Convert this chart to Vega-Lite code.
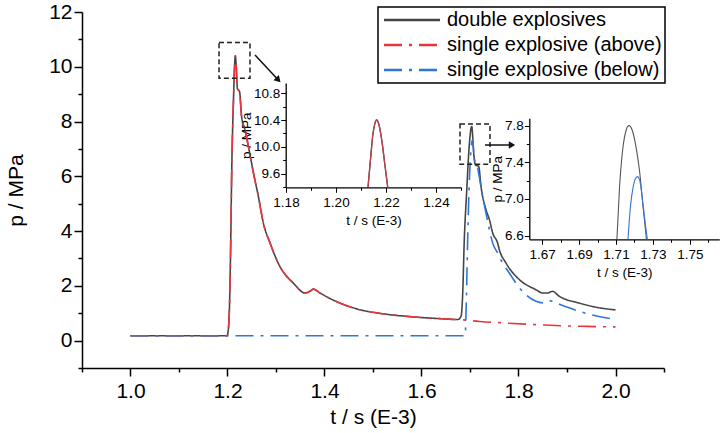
{
  "$schema": "https://vega.github.io/schema/vega-lite/v6.json",
  "description": "Pressure histories p(t) for double and single explosives, with two zoomed insets.",
  "width": 582,
  "height": 356,
  "autosize": "none",
  "padding": {"left": 82, "top": 12, "right": 64, "bottom": 65},
  "background": "white",
  "datasets": {
    "main": [
      {"series": "double explosives", "t": 1.0, "p": 0.18},
      {"series": "double explosives", "t": 1.199, "p": 0.18},
      {"series": "double explosives", "t": 1.201, "p": 0.3},
      {"series": "double explosives", "t": 1.204, "p": 1.2},
      {"series": "double explosives", "t": 1.206, "p": 2.85},
      {"series": "double explosives", "t": 1.209, "p": 6.5},
      {"series": "double explosives", "t": 1.2125, "p": 8.9},
      {"series": "double explosives", "t": 1.2145, "p": 10.0},
      {"series": "double explosives", "t": 1.2162, "p": 10.4},
      {"series": "double explosives", "t": 1.218, "p": 10.0},
      {"series": "double explosives", "t": 1.2205, "p": 9.2},
      {"series": "double explosives", "t": 1.2248, "p": 9.1},
      {"series": "double explosives", "t": 1.229, "p": 8.19},
      {"series": "double explosives", "t": 1.236, "p": 7.7},
      {"series": "double explosives", "t": 1.247, "p": 6.73},
      {"series": "double explosives", "t": 1.2535, "p": 6.12},
      {"series": "double explosives", "t": 1.2636, "p": 5.27},
      {"series": "double explosives", "t": 1.274, "p": 4.29},
      {"series": "double explosives", "t": 1.2878, "p": 3.56},
      {"series": "double explosives", "t": 1.308, "p": 2.71},
      {"series": "double explosives", "t": 1.3357, "p": 2.1},
      {"series": "double explosives", "t": 1.36, "p": 1.74},
      {"series": "double explosives", "t": 1.37, "p": 1.8},
      {"series": "double explosives", "t": 1.377, "p": 1.88},
      {"series": "double explosives", "t": 1.3905, "p": 1.74},
      {"series": "double explosives", "t": 1.41, "p": 1.55},
      {"series": "double explosives", "t": 1.4317, "p": 1.37},
      {"series": "double explosives", "t": 1.4728, "p": 1.13},
      {"series": "double explosives", "t": 1.52, "p": 0.98},
      {"series": "double explosives", "t": 1.58, "p": 0.87},
      {"series": "double explosives", "t": 1.64, "p": 0.8},
      {"series": "double explosives", "t": 1.675, "p": 0.77},
      {"series": "double explosives", "t": 1.6815, "p": 0.89},
      {"series": "double explosives", "t": 1.685, "p": 1.74},
      {"series": "double explosives", "t": 1.688, "p": 3.56},
      {"series": "double explosives", "t": 1.693, "p": 5.39},
      {"series": "double explosives", "t": 1.6988, "p": 7.21},
      {"series": "double explosives", "t": 1.7036, "p": 7.82},
      {"series": "double explosives", "t": 1.7077, "p": 6.84},
      {"series": "double explosives", "t": 1.711, "p": 6.42},
      {"series": "double explosives", "t": 1.718, "p": 6.36},
      {"series": "double explosives", "t": 1.7227, "p": 5.63},
      {"series": "double explosives", "t": 1.733, "p": 4.78},
      {"series": "double explosives", "t": 1.74, "p": 4.42},
      {"series": "double explosives", "t": 1.7468, "p": 3.93},
      {"series": "double explosives", "t": 1.757, "p": 3.56},
      {"series": "double explosives", "t": 1.7605, "p": 3.32},
      {"series": "double explosives", "t": 1.774, "p": 2.84},
      {"series": "double explosives", "t": 1.8016, "p": 2.23},
      {"series": "double explosives", "t": 1.8358, "p": 1.86},
      {"series": "double explosives", "t": 1.8495, "p": 1.74},
      {"series": "double explosives", "t": 1.86, "p": 1.74},
      {"series": "double explosives", "t": 1.87, "p": 1.8},
      {"series": "double explosives", "t": 1.884, "p": 1.62},
      {"series": "double explosives", "t": 1.925, "p": 1.37},
      {"series": "double explosives", "t": 1.96, "p": 1.22},
      {"series": "double explosives", "t": 2.0, "p": 1.12},

      {"series": "single explosive (above)", "t": 1.0, "p": 0.18},
      {"series": "single explosive (above)", "t": 1.199, "p": 0.18},
      {"series": "single explosive (above)", "t": 1.201, "p": 0.3},
      {"series": "single explosive (above)", "t": 1.204, "p": 1.2},
      {"series": "single explosive (above)", "t": 1.206, "p": 2.85},
      {"series": "single explosive (above)", "t": 1.209, "p": 6.5},
      {"series": "single explosive (above)", "t": 1.2125, "p": 8.9},
      {"series": "single explosive (above)", "t": 1.2145, "p": 10.0},
      {"series": "single explosive (above)", "t": 1.2162, "p": 10.4},
      {"series": "single explosive (above)", "t": 1.218, "p": 10.0},
      {"series": "single explosive (above)", "t": 1.2205, "p": 9.2},
      {"series": "single explosive (above)", "t": 1.2248, "p": 9.1},
      {"series": "single explosive (above)", "t": 1.229, "p": 8.19},
      {"series": "single explosive (above)", "t": 1.236, "p": 7.7},
      {"series": "single explosive (above)", "t": 1.247, "p": 6.73},
      {"series": "single explosive (above)", "t": 1.2535, "p": 6.12},
      {"series": "single explosive (above)", "t": 1.2636, "p": 5.27},
      {"series": "single explosive (above)", "t": 1.274, "p": 4.29},
      {"series": "single explosive (above)", "t": 1.2878, "p": 3.56},
      {"series": "single explosive (above)", "t": 1.308, "p": 2.71},
      {"series": "single explosive (above)", "t": 1.3357, "p": 2.1},
      {"series": "single explosive (above)", "t": 1.36, "p": 1.74},
      {"series": "single explosive (above)", "t": 1.37, "p": 1.8},
      {"series": "single explosive (above)", "t": 1.377, "p": 1.88},
      {"series": "single explosive (above)", "t": 1.3905, "p": 1.74},
      {"series": "single explosive (above)", "t": 1.41, "p": 1.55},
      {"series": "single explosive (above)", "t": 1.4317, "p": 1.37},
      {"series": "single explosive (above)", "t": 1.4728, "p": 1.13},
      {"series": "single explosive (above)", "t": 1.52, "p": 0.98},
      {"series": "single explosive (above)", "t": 1.58, "p": 0.87},
      {"series": "single explosive (above)", "t": 1.64, "p": 0.8},
      {"series": "single explosive (above)", "t": 1.683, "p": 0.76},
      {"series": "single explosive (above)", "t": 1.72, "p": 0.7},
      {"series": "single explosive (above)", "t": 1.774, "p": 0.64},
      {"series": "single explosive (above)", "t": 1.83, "p": 0.59},
      {"series": "single explosive (above)", "t": 1.877, "p": 0.55},
      {"series": "single explosive (above)", "t": 1.94, "p": 0.52},
      {"series": "single explosive (above)", "t": 2.0, "p": 0.5},

      {"series": "single explosive (below)", "t": 1.0, "p": 0.18},
      {"series": "single explosive (below)", "t": 1.69, "p": 0.18},
      {"series": "single explosive (below)", "t": 1.692, "p": 1.13},
      {"series": "single explosive (below)", "t": 1.695, "p": 3.56},
      {"series": "single explosive (below)", "t": 1.699, "p": 6.0},
      {"series": "single explosive (below)", "t": 1.702, "p": 6.97},
      {"series": "single explosive (below)", "t": 1.7055, "p": 7.34},
      {"series": "single explosive (below)", "t": 1.709, "p": 6.6},
      {"series": "single explosive (below)", "t": 1.7135, "p": 6.48},
      {"series": "single explosive (below)", "t": 1.719, "p": 6.0},
      {"series": "single explosive (below)", "t": 1.726, "p": 5.27},
      {"series": "single explosive (below)", "t": 1.733, "p": 4.66},
      {"series": "single explosive (below)", "t": 1.74, "p": 4.05},
      {"series": "single explosive (below)", "t": 1.7468, "p": 3.56},
      {"series": "single explosive (below)", "t": 1.757, "p": 3.2},
      {"series": "single explosive (below)", "t": 1.767, "p": 2.84},
      {"series": "single explosive (below)", "t": 1.781, "p": 2.47},
      {"series": "single explosive (below)", "t": 1.7947, "p": 2.1},
      {"series": "single explosive (below)", "t": 1.815, "p": 1.68},
      {"series": "single explosive (below)", "t": 1.836, "p": 1.44},
      {"series": "single explosive (below)", "t": 1.856, "p": 1.37},
      {"series": "single explosive (below)", "t": 1.866, "p": 1.45},
      {"series": "single explosive (below)", "t": 1.884, "p": 1.33},
      {"series": "single explosive (below)", "t": 1.9386, "p": 1.0},
      {"series": "single explosive (below)", "t": 2.0, "p": 0.77}
    ],
    "inset1": [
      {"series": "double explosives", "t": 1.2128, "p": 9.4},
      {"series": "double explosives", "t": 1.214, "p": 9.9},
      {"series": "double explosives", "t": 1.2148, "p": 10.2},
      {"series": "double explosives", "t": 1.2155, "p": 10.34},
      {"series": "double explosives", "t": 1.2162, "p": 10.4},
      {"series": "double explosives", "t": 1.2171, "p": 10.34},
      {"series": "double explosives", "t": 1.2185, "p": 10.05},
      {"series": "double explosives", "t": 1.2195, "p": 9.75},
      {"series": "double explosives", "t": 1.2207, "p": 9.4},
      {"series": "single explosive (above)", "t": 1.2128, "p": 9.4},
      {"series": "single explosive (above)", "t": 1.214, "p": 9.9},
      {"series": "single explosive (above)", "t": 1.2148, "p": 10.2},
      {"series": "single explosive (above)", "t": 1.2155, "p": 10.34},
      {"series": "single explosive (above)", "t": 1.2162, "p": 10.4},
      {"series": "single explosive (above)", "t": 1.2171, "p": 10.34},
      {"series": "single explosive (above)", "t": 1.2185, "p": 10.05},
      {"series": "single explosive (above)", "t": 1.2195, "p": 9.75},
      {"series": "single explosive (above)", "t": 1.2207, "p": 9.4}
    ],
    "inset2": [
      {"series": "double explosives", "t": 1.7105, "p": 6.56},
      {"series": "double explosives", "t": 1.7119, "p": 7.12},
      {"series": "double explosives", "t": 1.7137, "p": 7.55},
      {"series": "double explosives", "t": 1.7155, "p": 7.75},
      {"series": "double explosives", "t": 1.717, "p": 7.8},
      {"series": "double explosives", "t": 1.7188, "p": 7.75},
      {"series": "double explosives", "t": 1.721, "p": 7.55},
      {"series": "double explosives", "t": 1.7228, "p": 7.3},
      {"series": "double explosives", "t": 1.7246, "p": 6.93},
      {"series": "double explosives", "t": 1.7265, "p": 6.56},
      {"series": "single explosive (below)", "t": 1.7165, "p": 6.56},
      {"series": "single explosive (below)", "t": 1.7179, "p": 6.93},
      {"series": "single explosive (below)", "t": 1.7192, "p": 7.12},
      {"series": "single explosive (below)", "t": 1.7205, "p": 7.22},
      {"series": "single explosive (below)", "t": 1.7216, "p": 7.244},
      {"series": "single explosive (below)", "t": 1.7229, "p": 7.2},
      {"series": "single explosive (below)", "t": 1.7247, "p": 6.93},
      {"series": "single explosive (below)", "t": 1.726, "p": 6.71},
      {"series": "single explosive (below)", "t": 1.727, "p": 6.56}
    ],
    "boxes": [
      {"box": "first peak", "t": 1.1825, "t2": 1.2464, "p": 10.89, "p2": 9.58},
      {"box": "second peak", "t": 1.6794, "t2": 1.7412, "p": 7.91, "p2": 6.44}
    ],
    "arrows": [
      {"arrow": "a", "t": 1.3048, "p": 9.517, "t2": 1.2567, "p2": 10.43},
      {"arrow": "b", "t": 1.7866, "p": 7.143, "t2": 1.7309, "p2": 7.143}
    ]
  },
  "layer": [
    {
      "data": {"name": "main"},
      "encoding": {
        "x": {
          "field": "t",
          "type": "quantitative",
          "scale": {"domain": [0.9, 2.1], "nice": false, "zero": false},
          "axis": {
            "title": "t / s (E-3)",
            "values": [0.9, 1, 1.1, 1.2, 1.3, 1.4, 1.5, 1.6, 1.7, 1.8, 1.9, 2, 2.1],
            "labelExpr": "round(datum.value*10)%2==0 ? format(datum.value,'.1f') : ''",
            "tickSize": {"condition": {"test": "round(datum.value*10)%2==0", "value": 8}, "value": 4},
            "labelFontSize": 21,
            "titleFontSize": 21,
            "labelPadding": 4,
            "titlePadding": 5
          }
        },
        "y": {
          "field": "p",
          "type": "quantitative",
          "scale": {"domain": [-1, 12], "nice": false, "zero": false},
          "axis": {
            "title": "p / MPa",
            "values": [-1, 0, 1, 2, 3, 4, 5, 6, 7, 8, 9, 10, 11, 12],
            "labelExpr": "datum.value>=0 && datum.value%2==0 ? datum.label : ''",
            "tickSize": {"condition": {"test": "datum.value%2==0", "value": 8}, "value": 4},
            "labelFontSize": 21,
            "titleFontSize": 21,
            "labelPadding": 2,
            "titlePadding": 22
          }
        }
      },
      "layer": [
        {
          "mark": {"type": "line", "strokeWidth": 1.6, "interpolate": "monotone"},
          "encoding": {
            "color": {
              "field": "series",
              "type": "nominal",
              "title": null,
              "scale": {
                "domain": ["double explosives", "single explosive (above)", "single explosive (below)"],
                "range": ["#454545", "#e8363f", "#2e76d6"]
              }
            },
            "strokeDash": {
              "field": "series",
              "type": "nominal",
              "title": null,
              "scale": {
                "domain": ["double explosives", "single explosive (above)", "single explosive (below)"],
                "range": [[1, 0], [18, 7, 3, 7], [18, 7, 3, 7]]
              }
            }
          }
        },
        {
          "data": {"name": "boxes"},
          "mark": {"type": "rect", "fillOpacity": 0, "stroke": "#222222", "strokeWidth": 1.5, "strokeDash": [5, 3]},
          "encoding": {"x2": {"field": "t2"}, "y2": {"field": "p2"}}
        },
        {
          "data": {"name": "arrows"},
          "mark": {"type": "rule", "color": "#111111", "strokeWidth": 1.5},
          "encoding": {"x2": {"field": "t2"}, "y2": {"field": "p2"}}
        },
        {
          "data": {"name": "arrows"},
          "transform": [{"filter": "datum.arrow == 'a'"}],
          "mark": {"type": "point", "shape": "triangle-right", "angle": 47, "filled": true, "size": 55, "color": "#111111", "opacity": 1}
        },
        {
          "data": {"name": "arrows"},
          "transform": [{"filter": "datum.arrow == 'b'"}],
          "mark": {"type": "point", "shape": "triangle-right", "angle": 0, "filled": true, "size": 55, "color": "#111111", "opacity": 1}
        }
      ]
    },
    {
      "data": {"name": "inset1"},
      "mark": {"type": "line", "strokeWidth": 1.3, "interpolate": "monotone"},
      "encoding": {
        "x": {
          "field": "t",
          "type": "quantitative",
          "scale": {"domain": [1.18, 1.25], "nice": false, "zero": false, "range": [204, 379]},
          "axis": {
            "orient": "bottom",
            "offset": -180.7,
            "title": "t / s (E-3)",
            "values": [1.18, 1.19, 1.2, 1.21, 1.22, 1.23, 1.24, 1.25],
            "labelExpr": "round(datum.value*100)%2==0 ? format(datum.value,'.2f') : ''",
            "tickSize": {"condition": {"test": "round(datum.value*100)%2==0", "value": 5}, "value": 3},
            "labelFontSize": 13.5,
            "titleFontSize": 13.5,
            "domainWidth": 1.3,
            "tickWidth": 1,
            "labelPadding": 3,
            "titlePadding": 5
          }
        },
        "y": {
          "field": "p",
          "type": "quantitative",
          "scale": {"domain": [9.4, 10.95], "nice": false, "zero": false, "range": [175.3, 71]},
          "axis": {
            "orient": "left",
            "offset": -203.7,
            "title": "p / MPa",
            "values": [9.4, 9.6, 9.8, 10, 10.2, 10.4, 10.6, 10.8],
            "labelExpr": "round(datum.value*10)%4==0 ? format(datum.value,'.1f') : ''",
            "tickSize": {"condition": {"test": "round(datum.value*10)%4==0", "value": 5}, "value": 3},
            "labelFontSize": 13.5,
            "titleFontSize": 13.5,
            "domainWidth": 1.3,
            "tickWidth": 1,
            "labelPadding": 1,
            "titlePadding": 0
          }
        },
        "color": {
          "field": "series",
          "type": "nominal",
          "legend": null,
          "scale": {"domain": ["double explosives", "single explosive (above)"], "range": ["#454545", "#b8434b"]}
        }
      }
    },
    {
      "data": {"name": "inset2"},
      "mark": {"type": "line", "strokeWidth": 1.1, "interpolate": "monotone"},
      "encoding": {
        "x": {
          "field": "t",
          "type": "quantitative",
          "scale": {"domain": [1.663, 1.766], "nice": false, "zero": false, "range": [447.3, 637.3]},
          "axis": {
            "orient": "bottom",
            "offset": -128.7,
            "title": "t / s (E-3)",
            "values": [1.67, 1.68, 1.69, 1.7, 1.71, 1.72, 1.73, 1.74, 1.75, 1.76],
            "labelExpr": "round(datum.value*100)%2==1 ? format(datum.value,'.2f') : ''",
            "tickSize": {"condition": {"test": "round(datum.value*100)%2==1", "value": 5}, "value": 3},
            "labelFontSize": 13.5,
            "titleFontSize": 13.5,
            "domainWidth": 1.3,
            "tickWidth": 1,
            "labelPadding": 3,
            "titlePadding": 5
          }
        },
        "y": {
          "field": "p",
          "type": "quantitative",
          "scale": {"domain": [6.56, 7.88], "nice": false, "zero": false, "range": [227.3, 106.3]},
          "axis": {
            "orient": "left",
            "offset": -447.3,
            "title": "p / MPa",
            "values": [6.6, 6.8, 7, 7.2, 7.4, 7.6, 7.8],
            "labelExpr": "round(datum.value*10)%4==2 ? format(datum.value,'.1f') : ''",
            "tickSize": {"condition": {"test": "round(datum.value*10)%4==2", "value": 5}, "value": 3},
            "labelFontSize": 13.5,
            "titleFontSize": 13.5,
            "domainWidth": 1.3,
            "tickWidth": 1,
            "labelPadding": 1,
            "titlePadding": 0
          }
        },
        "color": {
          "field": "series",
          "type": "nominal",
          "legend": null,
          "scale": {"domain": ["double explosives", "single explosive (below)"], "range": ["#555555", "#3a74d0"]}
        }
      }
    }
  ],
  "resolve": {"scale": {"x": "independent", "y": "independent", "color": "independent", "strokeDash": "independent"}},
  "config": {
    "view": {"stroke": null},
    "axis": {
      "grid": false,
      "domainColor": "#000000",
      "domainWidth": 1.5,
      "tickColor": "#000000",
      "tickWidth": 1.5,
      "labelColor": "#000000",
      "titleColor": "#000000",
      "labelFont": "Liberation Sans",
      "titleFont": "Liberation Sans",
      "titleFontWeight": "normal",
      "labelOverlap": false,
      "labelFlush": false
    },
    "legend": {
      "orient": "none",
      "legendX": 296,
      "legendY": -5,
      "strokeColor": "#000000",
      "strokeWidth": 1.5,
      "fillColor": "white",
      "padding": 3,
      "symbolType": "M-1,0H7",
      "symbolSize": 196,
      "symbolStrokeWidth": 2.5,
      "labelFont": "Liberation Sans",
      "labelFontSize": 20,
      "labelColor": "#000000",
      "labelOffset": 46,
      "labelLimit": 400,
      "rowPadding": 5
    }
  }
}
